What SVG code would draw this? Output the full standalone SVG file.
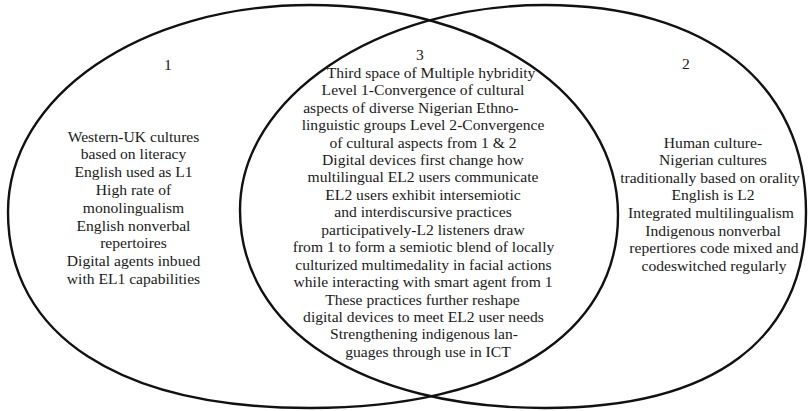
<svg xmlns="http://www.w3.org/2000/svg" width="808" height="411" viewBox="0 0 808 411">
<style>
  .set{fill:none;stroke:#111;stroke-width:2.4}
  text{font-family:"Liberation Serif","Times New Roman",serif;font-size:15.6px;fill:#1a1a1a;text-anchor:middle}
</style>
<rect width="808" height="411" fill="#fff"/>
<g id="set1">
  <path class="set" d="M310,5 C485.6,5 618,95.3 618,215 C618,334.7 501,408 310,408 C119.7,408 8,335.5 8,212 C8,96 140.9,5 310,5 Z"/>
  <text x="168" y="70">1</text>
  <text x="133.5" y="141.5">Western-UK cultures</text>
  <text x="133.5" y="159.3">based on literacy</text>
  <text x="133.5" y="177.1">English used as L1</text>
  <text x="133.5" y="194.9">High rate of</text>
  <text x="133.5" y="212.7">monolingualism</text>
  <text x="133.5" y="230.5">English nonverbal</text>
  <text x="133.5" y="248.3">repertoires</text>
  <text x="133.5" y="266.1">Digital agents inbued</text>
  <text x="133.5" y="283.9">with EL1 capabilities</text>
</g>
<g id="set2">
  <path class="set" d="M545,5 C706.8,5 806,83.7 806,212 C806,339.4 714.7,408 545,408 C362,408 240,328.8 240,210 C240,97.3 377.3,5 545,5 Z"/>
  <text x="686" y="69">2</text>
  <text x="713" y="147.5">Human culture-</text>
  <text x="713" y="165.1">Nigerian cultures</text>
  <text x="710" y="182.7">traditionally based on orality</text>
  <text x="713" y="200.3">English is L2</text>
  <text x="711" y="217.9">Integrated multilingualism</text>
  <text x="713" y="235.5">Indigenous nonverbal</text>
  <text x="714" y="253.1">repertiores code mixed and</text>
  <text x="714" y="270.7">codeswitched regularly</text>
</g>
<g id="overlap3">
  <text x="420" y="60">3</text>
  <text x="431" y="77.7">Third space of Multiple hybridity</text>
  <text x="423" y="95.1">Level 1-Convergence of cultural</text>
  <text x="411" y="112.6">aspects of diverse Nigerian Ethno-</text>
  <text x="423" y="130.0">linguistic groups Level 2-Convergence</text>
  <text x="423" y="147.5">of cultural aspects from 1 &amp; 2</text>
  <text x="423" y="164.9">Digital devices first change how</text>
  <text x="423" y="182.4">multilingual EL2 users communicate</text>
  <text x="423" y="199.8">EL2 users exhibit intersemiotic</text>
  <text x="423" y="217.3">and interdiscursive practices</text>
  <text x="423" y="234.7">participatively-L2 listeners draw</text>
  <text x="423.5" y="252.2">from 1 to form a semiotic blend of locally</text>
  <text x="423.5" y="269.6">culturized multimedality in facial actions</text>
  <text x="423" y="287.1">while interacting with smart agent from 1</text>
  <text x="422.5" y="304.5">These practices further reshape</text>
  <text x="423.5" y="322.0">digital devices to meet EL2 user needs</text>
  <text x="424" y="339.4">Strengthening indigenous lan-</text>
  <text x="428" y="356.9">guages through use in ICT</text>
</g>
</svg>
